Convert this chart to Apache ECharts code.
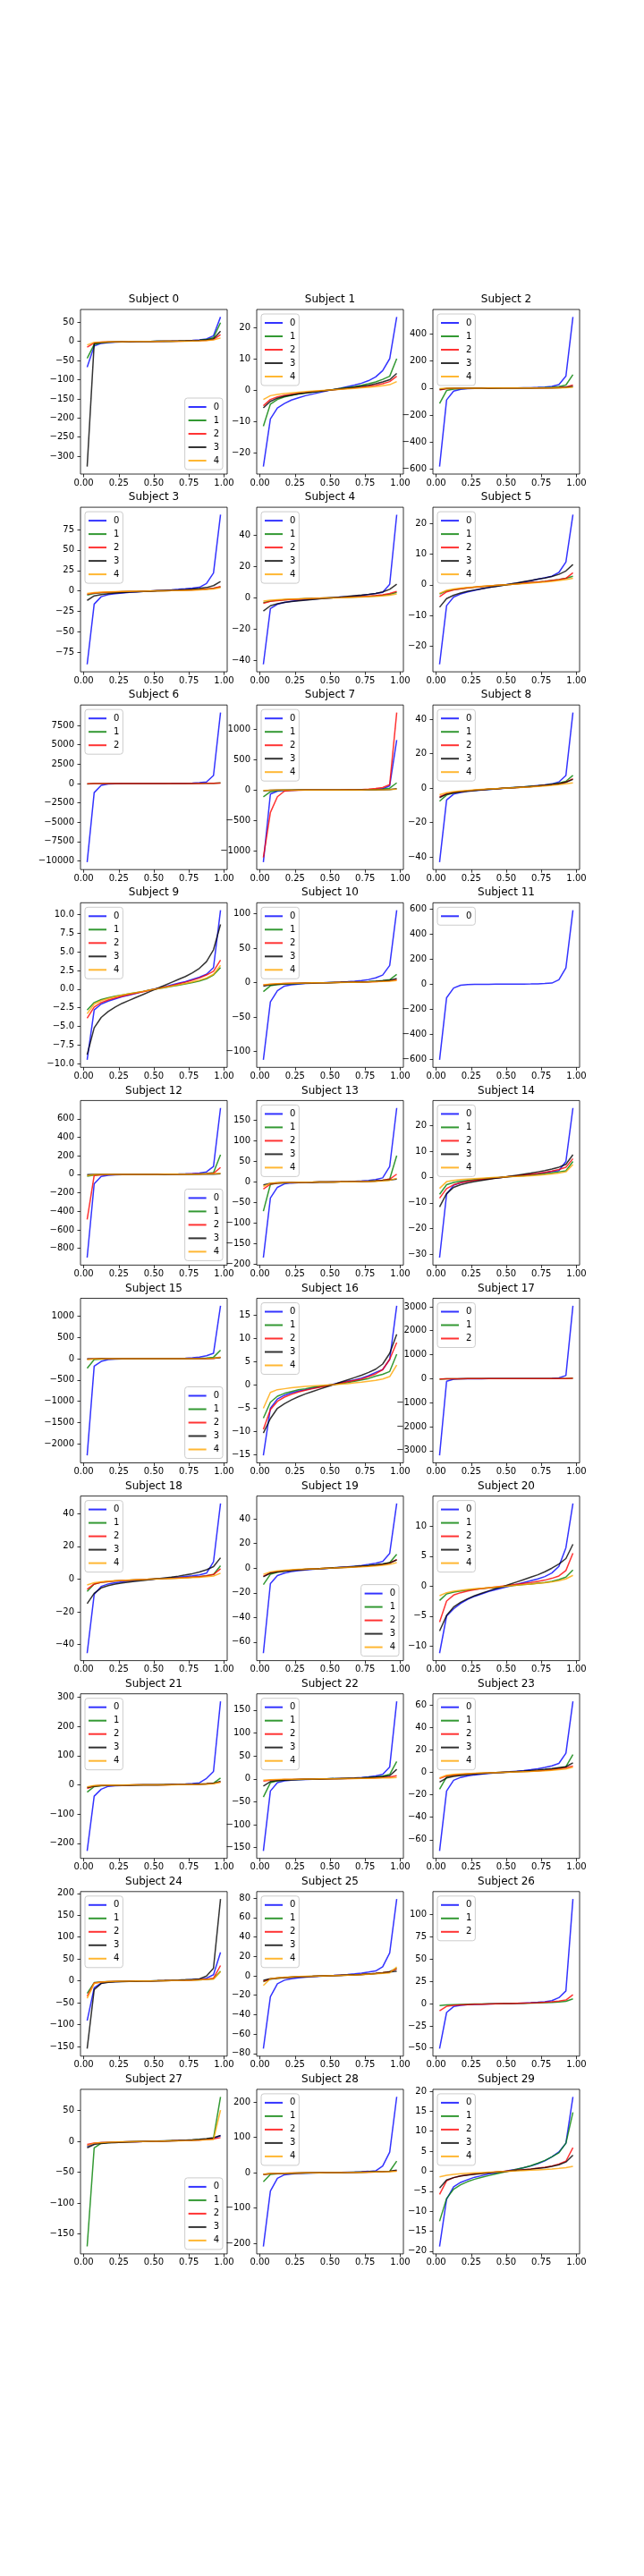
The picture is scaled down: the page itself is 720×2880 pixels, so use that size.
<!DOCTYPE html>
<html>
<head>
<meta charset="utf-8">
<script src="https://cdn.jsdelivr.net/npm/echarts@6/dist/echarts.min.js"></script>
<style>
html, body { margin: 0; background: #fff; }
#Chart { width: 720px; height: 2880px; }
</style>
</head>
<body>
<div id="Chart"></div>
<script>
// quantile positions shared by every subject
var xs = [0.025, 0.075, 0.125, 0.175, 0.225, 0.275, 0.325, 0.375, 0.425, 0.475,
          0.525, 0.575, 0.625, 0.675, 0.725, 0.775, 0.825, 0.875, 0.925, 0.975];
var xTicks = [0, 0.25, 0.5, 0.75, 1];
var seriesNames = ['0', '1', '2', '3', '4'];

// one list per subject: [series 0, series 1, ...]
var s0 = [
    [-67,-12,-5,-3,-2,-1.4,-0.9,-0.5,-0.2,0.1,0.4,0.7,1,1.4,2,2.8,4,6.5,15,64],
    [-44,-8,-3.5,-2,-1.3,-0.9,-0.6,-0.3,-0.1,0.1,0.3,0.5,0.8,1.1,1.5,2.1,3,5,10,49],
    [-15,-4,-2,-1.3,-0.9,-0.6,-0.4,-0.2,-0.1,0,0.2,0.4,0.6,0.8,1.1,1.5,2.1,3,5,18],
    [-327,-5,-2.5,-1.6,-1.1,-0.8,-0.5,-0.3,-0.1,0.1,0.3,0.5,0.7,1,1.4,2,2.8,4,7,27],
    [-9,-2.5,-1.5,-1,-0.7,-0.5,-0.3,-0.2,-0.1,0,0.1,0.3,0.4,0.6,0.8,1.1,1.5,2.2,4,9]
];
var s1 = [
    [-24.4,-9.2,-5.7,-4.3,-3.2,-2.5,-1.8,-1.3,-0.8,-0.3,0.2,0.6,1.1,1.6,2.2,3,4.2,6.2,10,23.3],
    [-11.5,-4.5,-3,-2.2,-1.7,-1.3,-1,-0.7,-0.4,-0.1,0.2,0.5,0.8,1.1,1.5,2,2.6,3.4,4.4,10],
    [-5,-3,-2.2,-1.7,-1.3,-1,-0.8,-0.5,-0.3,-0.1,0.1,0.3,0.5,0.7,0.9,1.2,1.5,2,2.7,4.4],
    [-5.7,-3.6,-2.6,-2,-1.6,-1.2,-0.9,-0.6,-0.4,-0.1,0.1,0.4,0.6,0.9,1.2,1.5,2,2.6,3.3,5.3],
    [-3,-1.8,-1.4,-1.1,-0.9,-0.7,-0.5,-0.35,-0.2,-0.05,0.1,0.25,0.4,0.55,0.7,0.9,1.1,1.4,1.7,2.7]
];
var s2 = [
    [-582,-88,-22,-9,-5,-3,-2,-1,-0.5,0,0.5,1,2,3,5,8,12,26,88,527],
    [-114,-18,-7,-4,-2.5,-1.5,-1,-0.5,-0.2,0,0.2,0.5,1,1.5,2.5,4,6,10,22,99],
    [-15,-4,-2,-1.2,-0.8,-0.5,-0.3,-0.2,-0.1,0,0.1,0.2,0.3,0.5,0.8,1.2,2,4,8,22],
    [-10,-3,-1.5,-1,-0.7,-0.5,-0.3,-0.2,-0.1,0,0.1,0.2,0.3,0.5,0.7,1,1.5,3,5,12],
    [-5,-1.5,-1,-0.7,-0.5,-0.3,-0.2,-0.1,-0.05,0,0.05,0.1,0.2,0.3,0.5,0.7,1,1.5,2.5,5]
];
var s3 = [
    [-89.5,-16,-7,-4.5,-3.2,-2.4,-1.7,-1.1,-0.6,-0.1,0.4,0.9,1.4,2,2.7,3.5,4.5,9,22,93],
    [-5,-3,-2.2,-1.7,-1.3,-1,-0.7,-0.5,-0.3,-0.1,0.1,0.3,0.5,0.8,1.1,1.4,1.8,2.4,3.2,5],
    [-4,-2.6,-2,-1.5,-1.2,-0.9,-0.7,-0.5,-0.3,-0.1,0.1,0.3,0.5,0.7,1,1.3,1.7,2.3,3.2,5.4],
    [-11.5,-6,-4.3,-3.3,-2.6,-2,-1.5,-1.1,-0.7,-0.3,0.1,0.5,0.9,1.3,1.8,2.4,3.1,4.2,6.5,11.5],
    [-3,-2,-1.5,-1.2,-0.9,-0.7,-0.5,-0.35,-0.2,-0.05,0.1,0.25,0.4,0.6,0.8,1,1.3,1.8,2.5,4]
];
var s4 = [
    [-42.3,-6.8,-4,-2.8,-2.1,-1.6,-1.2,-0.8,-0.5,-0.2,0.2,0.5,0.8,1.2,1.6,2.2,2.8,3.6,8.7,53],
    [-3,-2,-1.5,-1.2,-0.9,-0.7,-0.5,-0.35,-0.2,-0.05,0.1,0.25,0.4,0.6,0.8,1,1.3,1.7,2.3,3.5],
    [-3.4,-2.2,-1.7,-1.3,-1,-0.8,-0.6,-0.4,-0.2,-0.05,0.1,0.3,0.5,0.7,0.9,1.2,1.5,2,2.8,4.2],
    [-8.3,-5,-3.7,-2.9,-2.3,-1.8,-1.4,-1,-0.6,-0.2,0.2,0.6,1,1.4,1.8,2.3,2.9,3.8,5.5,8.7],
    [-2,-1.4,-1.1,-0.9,-0.7,-0.55,-0.4,-0.3,-0.15,-0.05,0.05,0.15,0.3,0.45,0.6,0.8,1,1.3,1.7,2.5]
];
var s5 = [
    [-25.9,-6.8,-4,-3,-2.3,-1.8,-1.3,-0.9,-0.5,-0.15,0.2,0.5,0.9,1.3,1.8,2.3,2.8,4,7.4,22.8],
    [-3,-2,-1.6,-1.3,-1,-0.8,-0.6,-0.4,-0.2,-0.05,0.1,0.3,0.5,0.7,0.9,1.1,1.4,1.7,2.1,2.8],
    [-3.9,-2.3,-1.7,-1.3,-1,-0.8,-0.6,-0.4,-0.2,-0.05,0.1,0.3,0.5,0.7,0.9,1.1,1.4,1.7,2.1,3.9],
    [-7.3,-4.5,-3.4,-2.7,-2.1,-1.7,-1.3,-0.9,-0.6,-0.2,0.2,0.6,1,1.4,1.8,2.2,2.7,3.4,4.5,6.6],
    [-2.8,-1.8,-1.4,-1.1,-0.9,-0.7,-0.5,-0.35,-0.2,-0.05,0.1,0.25,0.4,0.55,0.7,0.9,1.1,1.4,1.7,2.1]
];
var s6 = [
    [-10150,-1180,-230,-60,-25,-12,-6,-3,-1,0,1,3,6,12,25,55,100,190,1030,9160],
    [-60,-15,-6,-3,-2,-1,-0.5,-0.3,-0.1,0,0.1,0.3,0.5,1,2,3,6,12,25,70],
    [-40,-10,-4,-2,-1,-0.7,-0.4,-0.2,-0.1,0,0.1,0.2,0.4,0.7,1,2,4,8,15,50]
];
var s7 = [
    [-1190,-68,-20,-8,-4,-2.5,-1.5,-0.8,-0.4,0,0.4,0.8,1.5,2.5,4,6,10,20,70,824],
    [-112,-30,-10,-5,-3,-2,-1.2,-0.7,-0.3,0,0.3,0.7,1.2,2,3,5,8,13,30,117],
    [-1112,-371,-112,-20,-8,-4,-2,-1,-0.5,0,0.5,1,2,4,8,15,25,39,90,1278],
    [-15,-5,-2.5,-1.5,-1,-0.6,-0.4,-0.2,-0.1,0,0.1,0.2,0.4,0.6,1,1.5,2.5,4,8,20],
    [-8,-3,-1.5,-1,-0.6,-0.4,-0.3,-0.2,-0.1,0,0.1,0.2,0.3,0.4,0.6,1,1.5,2.5,5,12]
];
var s8 = [
    [-43,-6.9,-3.5,-2.5,-1.9,-1.5,-1.1,-0.8,-0.5,-0.15,0.2,0.5,0.8,1.1,1.5,1.9,2.5,3.6,7.4,44],
    [-7.6,-4,-2.8,-2.1,-1.7,-1.3,-1,-0.7,-0.4,-0.1,0.2,0.5,0.8,1.1,1.4,1.8,2.3,3,4,7.4],
    [-5,-3.3,-2.5,-2,-1.6,-1.2,-0.9,-0.6,-0.4,-0.1,0.1,0.4,0.6,0.9,1.2,1.6,2,2.6,3.5,5.5],
    [-5.5,-3.5,-2.6,-2,-1.6,-1.2,-0.9,-0.6,-0.4,-0.1,0.1,0.4,0.6,0.9,1.2,1.6,2,2.6,3.5,5.1],
    [-3.8,-2.6,-2,-1.6,-1.3,-1,-0.7,-0.5,-0.3,-0.1,0.1,0.3,0.5,0.7,1,1.3,1.6,2,2.5,3.1]
];
var s9 = [
    [-9.5,-2.8,-2,-1.6,-1.3,-1,-0.8,-0.55,-0.3,-0.1,0.1,0.3,0.55,0.8,1,1.3,1.6,2,2.9,10.6],
    [-2.8,-1.8,-1.4,-1.15,-0.95,-0.78,-0.62,-0.46,-0.3,-0.1,0.05,0.2,0.37,0.53,0.7,0.88,1.1,1.4,1.9,2.9],
    [-3.9,-2.4,-1.8,-1.45,-1.18,-0.95,-0.74,-0.54,-0.34,-0.13,0.07,0.27,0.48,0.7,0.93,1.2,1.5,1.9,2.4,3.9],
    [-8.8,-5.2,-3.8,-3,-2.4,-1.9,-1.5,-1.1,-0.7,-0.3,0.1,0.5,0.9,1.3,1.7,2.2,2.8,3.7,5.3,8.7],
    [-3.3,-2,-1.55,-1.25,-1,-0.8,-0.62,-0.45,-0.28,-0.1,0.06,0.22,0.4,0.57,0.76,0.97,1.2,1.5,2,3.2]
];
var s10 = [
    [-112,-28,-11.7,-5,-3,-2,-1.3,-0.8,-0.4,0,0.4,0.8,1.3,2,3,4.5,7,11,25,105],
    [-13,-4.5,-2.8,-2,-1.5,-1.1,-0.8,-0.5,-0.3,-0.1,0.1,0.3,0.5,0.8,1.1,1.5,2,3,4.3,12],
    [-3.5,-2.3,-1.7,-1.3,-1,-0.8,-0.6,-0.4,-0.2,-0.05,0.1,0.3,0.5,0.7,0.9,1.2,1.5,2,2.7,4],
    [-5,-3.2,-2.4,-1.9,-1.5,-1.1,-0.8,-0.6,-0.3,-0.1,0.1,0.3,0.6,0.8,1.1,1.5,2,2.6,3.5,6],
    [-3,-2,-1.5,-1.2,-0.9,-0.7,-0.5,-0.35,-0.2,-0.05,0.1,0.25,0.4,0.6,0.8,1,1.3,1.7,2.2,3]
];
var s11 = [
    [-604,-108,-31,-8,-3,-1.5,-1,-0.5,-0.2,0,0.2,0.5,1,1.5,3,5,9,35,130,590]
];
var s12 = [
    [-901,-103,-23,-10,-5,-3,-2,-1,-0.5,0,0.5,1,2,3,5,8,14,26,84,717],
    [-20,-8,-4,-2.5,-1.5,-1,-0.6,-0.3,-0.1,0,0.1,0.3,0.6,1,1.5,2.5,4,8,19,212],
    [-489,-13,-5,-3,-2,-1.2,-0.8,-0.4,-0.2,0,0.2,0.4,0.8,1.2,2,3,4,6,10,74],
    [-3,-1.5,-1,-0.7,-0.5,-0.3,-0.2,-0.1,-0.05,0,0.05,0.1,0.2,0.3,0.5,0.7,1,1.5,2.5,5],
    [-15,-4,-2,-1.2,-0.8,-0.5,-0.3,-0.2,-0.1,0,0.1,0.2,0.3,0.5,0.8,1.2,2,3,5,10]
];
var s13 = [
    [-184,-39,-13,-4.5,-2.5,-1.5,-1,-0.6,-0.3,0,0.3,0.6,1,1.5,2.5,4,6,10,38,180],
    [-71,-6,-3,-2,-1.4,-1,-0.7,-0.4,-0.2,0,0.2,0.4,0.7,1,1.4,2,3,4.5,7,64],
    [-17,-5,-2.8,-1.8,-1.2,-0.9,-0.6,-0.4,-0.2,0,0.2,0.4,0.6,0.9,1.2,1.8,2.8,4.5,7,19],
    [-7,-3.5,-2.4,-1.8,-1.3,-1,-0.7,-0.4,-0.2,0,0.2,0.4,0.7,1,1.3,1.8,2.4,3.5,5,7],
    [-11,-3,-1.8,-1.2,-0.9,-0.6,-0.4,-0.3,-0.1,0,0.1,0.3,0.4,0.6,0.9,1.2,1.8,2.8,4,9]
];
var s14 = [
    [-31.2,-6.7,-3.2,-2.2,-1.6,-1.2,-0.9,-0.6,-0.35,-0.1,0.15,0.4,0.65,0.95,1.3,1.7,2.1,2.5,6,26.7],
    [-6.7,-3,-2.1,-1.6,-1.3,-1,-0.75,-0.5,-0.3,-0.1,0.1,0.3,0.5,0.75,1,1.3,1.6,2,2.4,6],
    [-8.2,-4.5,-3,-2.2,-1.7,-1.3,-1,-0.7,-0.4,-0.1,0.2,0.5,0.8,1.1,1.4,1.8,2.3,2.9,3.8,7.1],
    [-11.6,-6.4,-4,-3,-2.3,-1.8,-1.3,-0.9,-0.5,-0.1,0.3,0.7,1.1,1.5,2,2.5,3.1,3.8,4.9,8.6],
    [-4.4,-1.8,-1.3,-1,-0.8,-0.6,-0.45,-0.3,-0.15,-0.05,0.1,0.2,0.35,0.5,0.7,0.9,1.2,1.5,2,4.8]
];
var s15 = [
    [-2270,-175,-63,-20,-10,-5,-3,-1.5,-0.5,0,0.5,1.5,3,5,10,20,40,70,126,1243],
    [-223,-21,-8,-4,-2,-1.2,-0.7,-0.3,-0.1,0,0.1,0.3,0.7,1.2,2,4,8,15,35,202],
    [-10,-3,-1.5,-1,-0.6,-0.4,-0.2,-0.1,-0.05,0,0.05,0.1,0.2,0.4,0.6,1,1.5,3,8,30],
    [-5,-2,-1,-0.7,-0.4,-0.3,-0.2,-0.1,0,0,0.1,0.2,0.3,0.4,0.7,1,2,4,9,25],
    [-20,-4,-2,-1.2,-0.8,-0.5,-0.3,-0.2,-0.1,0,0.1,0.2,0.3,0.5,0.8,1.2,2,4,10,40]
];
var s16 = [
    [-15.1,-5,-3,-2.2,-1.7,-1.3,-1,-0.7,-0.4,-0.1,0.2,0.5,0.8,1.1,1.5,2,2.7,3.3,5.5,17],
    [-7.1,-3.7,-2.4,-1.8,-1.4,-1,-0.8,-0.5,-0.3,-0.1,0.1,0.3,0.5,0.8,1.1,1.4,1.9,2.3,2.9,6.6],
    [-9.5,-5.3,-3.5,-2.6,-2,-1.5,-1.1,-0.8,-0.5,-0.2,0.1,0.4,0.7,1,1.3,1.8,2.4,3.3,5.5,9.1],
    [-10.3,-7.2,-5,-4,-3.2,-2.5,-1.9,-1.4,-0.9,-0.4,0.1,0.6,1.1,1.6,2.1,2.7,3.4,4.5,6.8,10.9],
    [-5,-1.6,-1,-0.8,-0.6,-0.45,-0.3,-0.2,-0.1,0,0.1,0.2,0.3,0.45,0.6,0.8,1,1.3,1.8,4.3]
];
var s17 = [
    [-3200,-110,-25,-8,-4,-2,-1,-0.5,-0.2,0,0.2,0.5,1,2,4,8,15,35,130,3040],
    [-20,-5,-2,-1,-0.6,-0.4,-0.2,-0.1,-0.05,0,0.05,0.1,0.2,0.4,0.6,1,2,4,8,25],
    [-15,-4,-2,-1,-0.6,-0.4,-0.2,-0.1,-0.05,0,0.05,0.1,0.2,0.4,0.6,1,2,3,6,15]
];
var s18 = [
    [-45.3,-9.4,-4.5,-3,-2.2,-1.7,-1.2,-0.8,-0.5,-0.15,0.2,0.5,0.8,1.2,1.6,2,2.6,3.6,10.5,46.2],
    [-7.6,-3,-2,-1.5,-1.2,-0.9,-0.7,-0.5,-0.3,-0.1,0.1,0.3,0.5,0.7,0.9,1.2,1.5,2,2.8,8.2],
    [-6.3,-3,-2,-1.5,-1.2,-0.9,-0.7,-0.5,-0.3,-0.1,0.1,0.3,0.5,0.7,0.9,1.2,1.5,2,2.8,6.3],
    [-15,-8.7,-5.4,-4,-3.1,-2.4,-1.8,-1.3,-0.8,-0.3,0.2,0.7,1.2,1.8,2.5,3.3,4.3,5.7,7.6,13],
    [-3.6,-2.2,-1.7,-1.3,-1,-0.8,-0.6,-0.4,-0.25,-0.1,0.05,0.2,0.35,0.5,0.7,0.9,1.1,1.4,1.9,3.6]
];
var s19 = [
    [-69,-12.5,-6,-4,-2.8,-2,-1.4,-0.9,-0.5,-0.1,0.3,0.7,1.1,1.6,2.2,3,4,5.5,12,52.5],
    [-13.3,-5,-3.3,-2.4,-1.8,-1.3,-0.9,-0.6,-0.3,0,0.3,0.6,0.9,1.3,1.7,2.2,2.8,3.5,4.5,11.3],
    [-6.5,-3.8,-2.8,-2.1,-1.6,-1.2,-0.9,-0.6,-0.3,-0.05,0.2,0.5,0.8,1.1,1.4,1.8,2.3,3,4.2,7],
    [-7,-4,-3,-2.3,-1.8,-1.4,-1,-0.7,-0.4,-0.1,0.2,0.5,0.8,1.2,1.6,2,2.5,3.2,4.3,6.7],
    [-5,-3,-2.2,-1.7,-1.3,-1,-0.7,-0.5,-0.3,-0.05,0.15,0.4,0.6,0.9,1.1,1.4,1.8,2.3,3,4.5]
];
var s20 = [
    [-11.2,-5,-3.8,-2.9,-2.2,-1.7,-1.3,-0.9,-0.6,-0.3,0,0.3,0.6,0.9,1.2,1.6,2.2,3.3,6.4,13.8],
    [-2.4,-1.3,-1,-0.8,-0.65,-0.5,-0.4,-0.3,-0.2,-0.05,0.05,0.15,0.25,0.35,0.5,0.6,0.8,1.1,1.5,2.7],
    [-6,-2.5,-1.5,-1.1,-0.8,-0.6,-0.4,-0.3,-0.15,0,0.15,0.3,0.45,0.6,0.8,1,1.3,1.7,2.6,5.5],
    [-7.5,-4.9,-3.5,-2.7,-2.1,-1.6,-1.2,-0.8,-0.4,-0.1,0.3,0.7,1.1,1.5,1.9,2.4,3,3.7,4.6,7],
    [-1.6,-1.1,-0.85,-0.7,-0.55,-0.45,-0.35,-0.25,-0.15,-0.05,0.05,0.15,0.25,0.35,0.45,0.55,0.7,0.9,1.2,1.8]
];
var s21 = [
    [-226,-38.6,-15,-5,-3,-2,-1.2,-0.7,-0.3,0,0.3,0.7,1.2,2,3,4.5,7,22,46,286],
    [-25,-6,-3,-2,-1.3,-0.9,-0.6,-0.4,-0.2,0,0.2,0.4,0.6,0.9,1.3,2,3,4,6,23],
    [-12,-4,-2.2,-1.5,-1,-0.7,-0.5,-0.3,-0.1,0,0.1,0.3,0.5,0.7,1,1.5,2.2,3.5,5,10],
    [-9,-3.5,-2,-1.4,-1,-0.7,-0.5,-0.3,-0.1,0,0.1,0.3,0.5,0.7,1,1.4,2,3,5,12],
    [-7,-2.5,-1.5,-1,-0.7,-0.5,-0.3,-0.2,-0.1,0,0.1,0.2,0.3,0.5,0.7,1,1.5,2.5,4,9]
];
var s22 = [
    [-157,-26.5,-8.4,-4.5,-3,-2,-1.3,-0.8,-0.4,0,0.4,0.8,1.3,2,3,4.5,6.5,10,26,169],
    [-39.5,-8.4,-4.5,-3,-2,-1.4,-1,-0.6,-0.3,0,0.3,0.6,1,1.4,2,2.8,4,6,9.7,38],
    [-5,-3,-2.2,-1.6,-1.2,-0.9,-0.6,-0.4,-0.2,0,0.2,0.4,0.6,0.9,1.2,1.6,2.2,3,4,7],
    [-16,-6,-4,-2.9,-2.1,-1.5,-1.1,-0.7,-0.3,0,0.3,0.7,1.1,1.5,2.1,2.9,3.8,5,7,20.7],
    [-3,-2,-1.5,-1.1,-0.9,-0.7,-0.5,-0.3,-0.15,0,0.15,0.3,0.5,0.7,0.9,1.1,1.4,1.8,2.2,3]
];
var s23 = [
    [-70,-16.6,-7.1,-4.5,-3.2,-2.3,-1.6,-1,-0.5,0,0.5,1,1.6,2.3,3.2,4.3,5.8,8,17,63.3],
    [-15,-4,-2.6,-1.9,-1.4,-1,-0.7,-0.5,-0.2,0,0.2,0.5,0.7,1,1.4,1.9,2.6,3.6,5,15.8],
    [-5.5,-3.2,-2.4,-1.8,-1.4,-1,-0.7,-0.5,-0.2,0,0.2,0.5,0.7,1,1.4,1.8,2.4,3.2,4,5.5],
    [-8.7,-5,-3.6,-2.7,-2.1,-1.6,-1.1,-0.7,-0.3,0,0.3,0.7,1.1,1.6,2.1,2.7,3.4,4.2,5,8.4],
    [-5,-2.5,-1.8,-1.4,-1.1,-0.8,-0.6,-0.4,-0.2,0,0.2,0.4,0.6,0.8,1.1,1.4,1.8,2.4,3,4.5]
];
var s24 = [
    [-91,-16,-5,-3,-2,-1.4,-1,-0.6,-0.3,0,0.3,0.6,1,1.4,2,3,4,6,14,65],
    [-28.5,-4,-2.5,-1.8,-1.3,-1,-0.7,-0.4,-0.2,0,0.2,0.4,0.7,1,1.3,1.8,2.5,3.5,5,22],
    [-35,-5,-3,-2,-1.5,-1.1,-0.8,-0.5,-0.2,0,0.2,0.5,0.8,1.1,1.5,2,3,4,6,35],
    [-155,-20,-6,-3.5,-2.5,-1.7,-1.2,-0.7,-0.3,0,0.3,0.7,1.2,1.8,2.6,3.5,4.5,11,29,187],
    [-40,-6,-3,-2,-1.4,-1,-0.7,-0.4,-0.2,0,0.2,0.4,0.7,1,1.4,1.9,2.5,3.2,4,21]
];
var s25 = [
    [-75,-21.5,-8.2,-4.5,-3,-2,-1.4,-0.9,-0.4,0,0.4,0.9,1.4,2,2.8,3.8,5,9.3,23.5,79],
    [-6,-3.5,-2.5,-1.9,-1.4,-1,-0.7,-0.5,-0.2,0,0.2,0.5,0.7,1,1.4,1.9,2.5,3.3,4.3,7.6],
    [-5.5,-3.3,-2.4,-1.8,-1.4,-1,-0.7,-0.5,-0.2,0,0.2,0.5,0.7,1,1.4,1.8,2.4,3.2,4.2,7],
    [-4.5,-3,-2.3,-1.8,-1.4,-1.1,-0.8,-0.5,-0.25,0,0.25,0.5,0.8,1.1,1.4,1.8,2.3,3,3.8,4.8],
    [-10,-3,-2,-1.5,-1.1,-0.8,-0.6,-0.4,-0.2,0,0.2,0.4,0.6,0.8,1.1,1.5,2,2.6,3,9.2]
];
var s26 = [
    [-50.7,-10,-3.3,-2,-1.3,-0.9,-0.6,-0.35,-0.15,0,0.2,0.4,0.7,1,1.5,2.2,3.3,6.7,14.3,117.7],
    [-2.3,-1.5,-1.1,-0.9,-0.7,-0.5,-0.4,-0.25,-0.1,0,0.1,0.25,0.4,0.55,0.75,1,1.3,1.8,2.6,5.3],
    [-8,-3,-2,-1.5,-1.1,-0.8,-0.6,-0.4,-0.2,0,0.2,0.4,0.6,0.8,1.1,1.5,2,2.8,4,10]
];
var s27 = [
    [-8,-3.5,-2.3,-1.7,-1.3,-1,-0.7,-0.5,-0.2,0,0.2,0.5,0.7,1,1.3,1.7,2.3,3.2,4.5,9],
    [-170,-10.5,-3,-2,-1.4,-1,-0.7,-0.4,-0.2,0,0.2,0.4,0.7,1,1.4,2,2.8,3.8,5,72],
    [-5,-3,-2.2,-1.7,-1.3,-1,-0.7,-0.5,-0.2,0,0.2,0.5,0.7,1,1.3,1.7,2.2,3,4,6],
    [-10.5,-5,-3.4,-2.6,-2,-1.5,-1.1,-0.7,-0.3,0,0.3,0.7,1.1,1.5,2,2.6,3.4,4.5,6,9.5],
    [-7,-3,-2,-1.5,-1.1,-0.8,-0.6,-0.4,-0.2,0,0.2,0.4,0.6,0.8,1.1,1.5,2,2.6,3,50.5]
];
var s28 = [
    [-209,-52,-16,-6,-3.5,-2.3,-1.5,-0.9,-0.4,0,0.4,0.9,1.5,2.1,2.8,3.7,5,19,58,215],
    [-26,-5,-3,-2.2,-1.6,-1.2,-0.8,-0.5,-0.2,0,0.2,0.5,0.8,1.2,1.6,2.2,3,3.5,4,33],
    [-5,-3,-2.2,-1.6,-1.2,-0.9,-0.6,-0.4,-0.2,0,0.2,0.4,0.6,0.9,1.2,1.6,2.2,3,3.8,5],
    [-5,-3.2,-2.4,-1.8,-1.4,-1,-0.7,-0.4,-0.2,0,0.2,0.4,0.7,1,1.4,1.8,2.4,3.2,4.3,7],
    [-4,-2.5,-1.9,-1.4,-1.1,-0.8,-0.6,-0.4,-0.2,0,0.2,0.4,0.6,0.8,1.1,1.4,1.9,2.5,3,4]
];
var s29 = [
    [-18.8,-7,-3.9,-2.8,-2.1,-1.5,-1.1,-0.7,-0.4,-0.1,0.2,0.5,0.9,1.3,1.9,2.6,3.6,4.8,7,18.6],
    [-12.5,-6.8,-4.5,-3.4,-2.6,-2,-1.5,-1.1,-0.7,-0.3,0.1,0.5,0.9,1.4,2,2.7,3.6,4.6,7,14.7],
    [-5.8,-2.4,-1.6,-1.2,-0.9,-0.7,-0.5,-0.35,-0.2,-0.05,0.1,0.25,0.4,0.55,0.75,1,1.3,1.8,2.5,5.9],
    [-4.2,-2.2,-1.6,-1.2,-0.95,-0.75,-0.55,-0.4,-0.25,-0.1,0.05,0.2,0.35,0.5,0.7,0.9,1.2,1.6,2.3,4],
    [-1.4,-1,-0.8,-0.65,-0.52,-0.42,-0.33,-0.25,-0.17,-0.08,0,0.08,0.17,0.25,0.35,0.45,0.57,0.72,0.9,1.2]
];

var subjects = [s0, s1, s2, s3, s4, s5, s6, s7, s8, s9, s10, s11, s12, s13, s14,
                s15, s16, s17, s18, s19, s20, s21, s22, s23, s24, s25, s26, s27, s28, s29];

// y tick labels
var yTicks = [
    [50,0,-50,-100,-150,-200,-250,-300],
    [20,10,0,-10,-20],
    [400,200,0,-200,-400,-600],
    [75,50,25,0,-25,-50,-75],
    [40,20,0,-20,-40],
    [20,10,0,-10,-20],
    [7500,5000,2500,0,-2500,-5000,-7500,-10000],
    [1000,500,0,-500,-1000],
    [40,20,0,-20,-40],
    [10,7.5,5,2.5,0,-2.5,-5,-7.5,-10],
    [100,50,0,-50,-100],
    [600,400,200,0,-200,-400,-600],
    [600,400,200,0,-200,-400,-600,-800],
    [150,100,50,0,-50,-100,-150,-200],
    [20,10,0,-10,-20,-30],
    [1000,500,0,-500,-1000,-1500,-2000],
    [15,10,5,0,-5,-10,-15],
    [3000,2000,1000,0,-1000,-2000,-3000],
    [40,20,0,-20,-40],
    [40,20,0,-20,-40,-60],
    [10,5,0,-5,-10],
    [300,200,100,0,-100,-200],
    [150,100,50,0,-50,-100,-150],
    [60,40,20,0,-20,-40,-60],
    [200,150,100,50,0,-50,-100,-150],
    [80,60,40,20,0,-20,-40,-60,-80],
    [100,75,50,25,0,-25,-50],
    [50,0,-50,-100,-150],
    [200,100,0,-100,-200],
    [20,15,10,5,0,-5,-10,-15,-20]
];

// layout / style
var colors = ['#0000ff', '#008000', '#ff0000', '#000000', '#ffa500'];
var legendLowerRight = [0, 12, 15, 19, 27];
var FONT = 'DejaVu Sans';
var LEFT0 = 90, COLW = 197, W = 164;
var TOP0 = 346, ROWH = 221.1, H = 184;

function fmtY(dec) {
    return function (v) {
        return (v < 0 ? '\u2212' : '') + Math.abs(v).toFixed(dec);
    };
}

var grids = [], xAxes = [], yAxes = [], titles = [], legends = [], series = [];

subjects.forEach(function (lines, i) {
    var col = i % 3, row = Math.floor(i / 3);
    var left = LEFT0 + col * COLW;
    var top = TOP0 + row * ROWH;

    var lo = Infinity, hi = -Infinity;
    lines.forEach(function (vals) {
        vals.forEach(function (v) { lo = Math.min(lo, v); hi = Math.max(hi, v); });
    });
    var pad = (hi - lo) * 0.05;

    grids.push({
        left: left, top: top, width: W, height: H,
        show: true, borderColor: '#000', borderWidth: 0.8, backgroundColor: '#fff'
    });

    // axis lines hidden (grid border is the frame); keep them off zero so ticks stay on the edge
    xAxes.push({
        type: 'value', gridIndex: i, min: -0.0225, max: 1.0225, position: 'bottom',
        axisLine: { show: false, onZero: false },
        splitLine: { show: false },
        axisTick: { show: true, length: 3.5, customValues: xTicks,
                    lineStyle: { color: '#000', width: 0.8 } },
        axisLabel: { customValues: xTicks, margin: 5, fontSize: 10, color: '#000',
                     fontFamily: FONT,
                     formatter: function (v) { return v.toFixed(2); } }
    });

    yAxes.push({
        type: 'value', gridIndex: i, min: lo - pad, max: hi + pad, position: 'left',
        axisLine: { show: false, onZero: false },
        splitLine: { show: false },
        axisTick: { show: true, length: 3.5, customValues: yTicks[i],
                    lineStyle: { color: '#000', width: 0.8 } },
        axisLabel: { customValues: yTicks[i], margin: 7, fontSize: 10, color: '#000',
                     fontFamily: FONT, formatter: fmtY(i === 9 ? 1 : 0) }
    });

    titles.push({
        text: 'Subject ' + i,
        left: left + W / 2, top: top - 18, textAlign: 'center', padding: 0,
        textStyle: { fontSize: 12, fontWeight: 'normal', color: '#000',
                     fontFamily: FONT, lineHeight: 14 }
    });

    var lg = {
        data: seriesNames.slice(0, lines.length),
        orient: 'vertical', icon: 'rect', itemWidth: 20, itemHeight: 2, itemGap: 5,
        padding: [5, 4, 5, 4], selectedMode: false,
        backgroundColor: 'rgba(255,255,255,0.8)', borderColor: '#cccccc',
        borderWidth: 1, borderRadius: 3,
        itemStyle: { opacity: 0.8 },
        textStyle: { fontSize: 10, lineHeight: 10, color: '#000', fontFamily: FONT,
                     padding: [0, 0, 0, 3] }
    };
    if (legendLowerRight.indexOf(i) >= 0) {
        lg.right = 720 - (left + W - 5);
        lg.bottom = 2880 - (top + H - 5);
    } else {
        lg.left = left + 5;
        lg.top = top + 5;
    }
    legends.push(lg);

    lines.forEach(function (vals, k) {
        series.push({
            type: 'line', name: seriesNames[k], xAxisIndex: i, yAxisIndex: i,
            data: xs.map(function (x, n) { return [x, vals[n]]; }),
            symbol: 'none', showSymbol: false, silent: true,
            itemStyle: { color: colors[k] },
            lineStyle: { color: colors[k], width: 1.5, opacity: 0.8 }
        });
    });
});

var Chart = echarts.init(document.getElementById('Chart'));

Chart.setOption({
    animation: false,
    backgroundColor: '#fff',
    title: titles,
    legend: legends,
    grid: grids,
    xAxis: xAxes,
    yAxis: yAxes,
    series: series
});
</script>
</body>
</html>
